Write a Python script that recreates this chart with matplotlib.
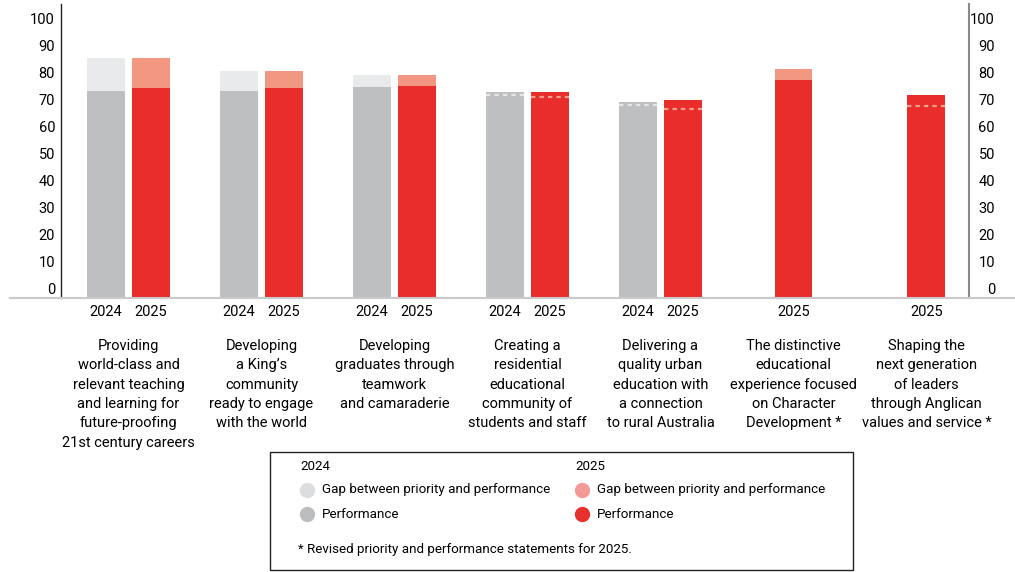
import matplotlib
matplotlib.use('Agg')
import matplotlib.pyplot as plt
import numpy as np
from matplotlib.patches import Rectangle
from matplotlib.lines import Line2D
from matplotlib.transforms import ScaledTranslation

plt.rcParams['font.family'] = ['Roboto', 'DejaVu Sans']
plt.rcParams['font.size'] = 10.5

# data
categories = [
    "Providing\nworld-class and\nrelevant teaching\nand learning for\nfuture-proofing\n21st century careers",
    "Developing\na King\u2019s\ncommunity\nready to engage\nwith the world",
    "Developing\ngraduates through\nteamwork\nand camaraderie",
    "Creating a\nresidential\neducational\ncommunity of\nstudents and staff",
    "Delivering a\nquality urban\neducation with\na connection\nto rural Australia",
    "The distinctive\neducational\nexperience focused\non Character\nDevelopment *",
    "Shaping the\nnext generation\nof leaders\nthrough Anglican\nvalues and service *",
]
perf_2024 = np.array([76.8, 76.8, 78.1, 76.3, 72.6, np.nan, np.nan])
prio_2024 = np.array([88.9, 84.1, 82.6, 75.3, 71.4, np.nan, np.nan])
perf_2025 = np.array([77.8, 77.8, 78.5, 76.3, 73.3, 80.7, 75.2])
prio_2025 = np.array([88.9, 84.1, 82.6, 74.3, 70.0, 84.8, 71.2])
yticks = list(range(0, 101, 10))

GREY = '#bebfc1'
GREY_LIGHT = '#e9eaec'
RED = '#e82d2b'
RED_LIGHT = '#f29882'

fig = plt.figure(figsize=(10.15, 5.72), dpi=100)
ax = fig.add_axes([61/1015, 274/572, 908/1015, 294/572])

x = np.arange(len(categories))
has24 = ~np.isnan(perf_2024)
off = np.where(has24, 0.17, 0.0)
x24 = x - off
x25 = x + off
w = 0.285


def draw_series(xs, perf, prio, c_perf, c_gap, c_dash):
    ok = ~np.isnan(perf)
    ax.bar(xs[ok], perf[ok], w, color=c_perf, zorder=2)
    up = ok & (prio > perf)
    ax.bar(xs[up], (prio - perf)[up], w, bottom=perf[up], color=c_gap, zorder=2)
    dn = ok & (prio < perf)
    ax.hlines(prio[dn], xs[dn] - w/2, xs[dn] + w/2, colors=c_dash,
              linestyles=(0, (2, 1.8)), lw=1.6, zorder=3)


draw_series(x24, perf_2024, prio_2024, GREY, GREY_LIGHT, '#e6e6e8')
draw_series(x25, perf_2025, prio_2025, RED, RED_LIGHT, '#f4a08c')

ax.set_xlim(-0.508, 6.32)
ax.set_ylim(0, 108.9)

# year labels under the bars
tick_pos = list(x24[has24]) + list(x25)
tick_lab = ['2024'] * int(has24.sum()) + ['2025'] * len(x25)
ax.set_xticks(tick_pos)
ax.set_xticklabels(tick_lab)
ax.tick_params(axis='x', length=0, pad=5)

for i, cat in enumerate(categories):
    ax.text(x[i], -0.14, cat, transform=ax.get_xaxis_transform(),
            ha='center', va='top', linespacing=1.48)

for s in ['top', 'bottom', 'right']:
    ax.spines[s].set_visible(False)
ax.spines['left'].set_color('#222222')
ax.spines['left'].set_linewidth(1)

shift = ScaledTranslation(0, 9.5/100, fig.dpi_scale_trans)
ax.set_yticks(yticks)
ax.tick_params(axis='y', length=0, pad=4.3)
for lbl in ax.get_yticklabels():
    lbl.set_transform(lbl.get_transform() + shift)

ax2 = ax.twinx()
ax2.set_ylim(ax.get_ylim())
ax2.set_yticks(yticks)
ax2.tick_params(axis='y', length=0, pad=18.7)
for s in ['top', 'bottom', 'left']:
    ax2.spines[s].set_visible(False)
ax2.spines['right'].set_color('#8a8a8a')
ax2.spines['right'].set_linewidth(1.5)
for lbl in ax2.get_yticklabels():
    lbl.set_ha('right')
    lbl.set_transform(lbl.get_transform() + shift)

# baseline
fig.add_artist(Line2D([10/1015, 1], [274/572, 274/572], color='#cacaca', lw=1.5))

# legend box
def fy(py):
    return 1 - py/572

LEG_FS = 9.6
fig.add_artist(Rectangle((270/1015, fy(570)), (853-270)/1015, (570-452)/572,
                         transform=fig.transFigure, fill=False, ec='#222222', lw=1))
for cx, year, c_gap, c_perf in [(300, '2024', '#dcdddf', '#bcbdbf'),
                                (575, '2025', '#f39a98', '#e8302c')]:
    fig.text(cx/1015, fy(466), year, va='center', ha='left', fontsize=LEG_FS)
    for py, col, lab in [(490, c_gap, 'Gap between priority and performance'),
                         (514, c_perf, 'Performance')]:
        fig.add_artist(Line2D([(cx + 7)/1015], [fy(py)], marker='o', ms=10,
                              color=col, ls='none'))
        fig.text((cx + 22)/1015, fy(py), lab, va='center', ha='left', fontsize=LEG_FS)
fig.text(298/1015, fy(549), '* Revised priority and performance statements for 2025.',
         va='center', ha='left', fontsize=LEG_FS)

fig.savefig('out.png', dpi=100)
